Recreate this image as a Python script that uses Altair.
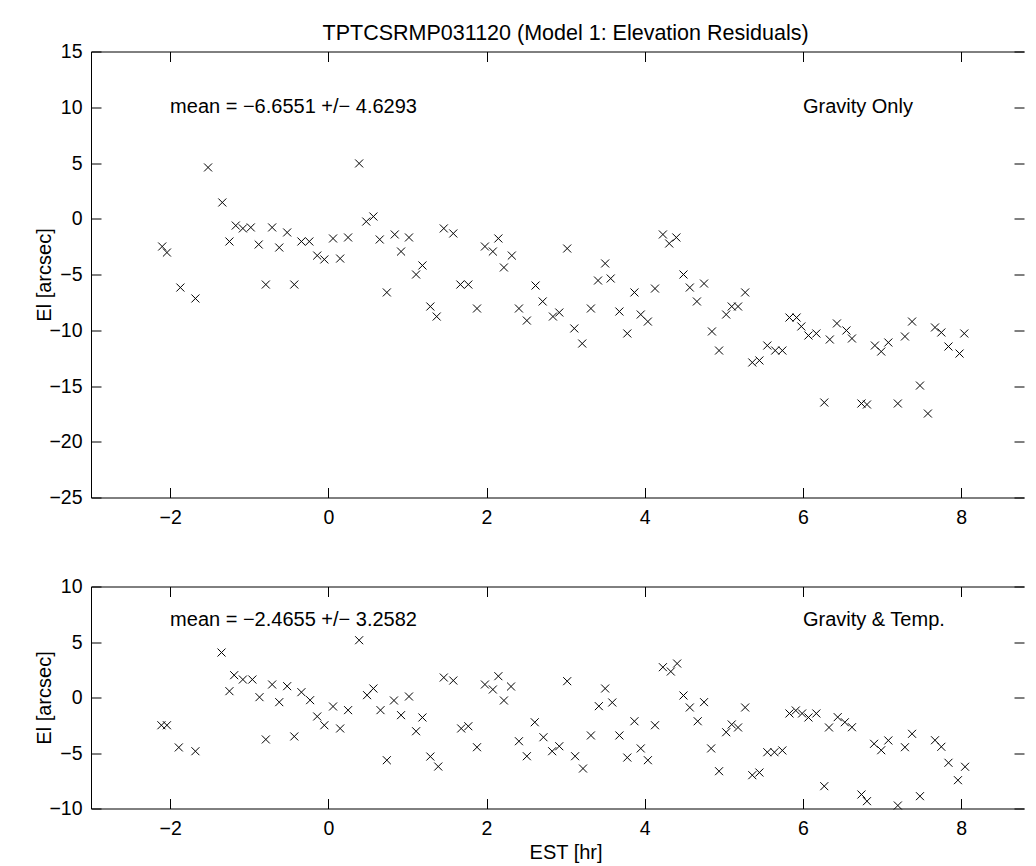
import altair as alt
import pandas as pd

# ---------------- data ----------------
top_x = [-2.10, -2.04, -1.87, -1.68, -1.52, -1.34, -1.25, -1.17, -1.08, -0.98,
         -0.88, -0.79, -0.71, -0.62, -0.52, -0.43, -0.34, -0.24, -0.14, -0.05,
         0.06, 0.15, 0.25, 0.39, 0.48, 0.57, 0.65, 0.74, 0.84, 0.92,
         1.02, 1.11, 1.19, 1.29, 1.37, 1.46, 1.58, 1.67, 1.77, 1.88,
         1.98, 2.08, 2.15, 2.22, 2.32, 2.41, 2.51, 2.62, 2.71, 2.84,
         2.92, 3.02, 3.11, 3.21, 3.32, 3.41, 3.50, 3.57, 3.68, 3.78,
         3.87, 3.95, 4.04, 4.13, 4.23, 4.31, 4.40, 4.49, 4.57, 4.66,
         4.75, 4.85, 4.94, 5.03, 5.10, 5.18, 5.27, 5.36, 5.45, 5.55,
         5.65, 5.74, 5.83, 5.92, 5.98, 6.07, 6.17, 6.27, 6.34, 6.43,
         6.55, 6.62, 6.74, 6.81, 6.91, 6.99, 7.08, 7.20, 7.29, 7.38,
         7.48, 7.58, 7.67, 7.75, 7.84, 7.98, 8.04]
top_y = [-2.49, -3.03, -6.17, -7.15, 4.60, 1.46, -2.04, -0.61, -0.87, -0.78,
         -2.31, -5.90, -0.78, -2.58, -1.23, -5.90, -2.04, -2.04, -3.30, -3.65,
         -1.77, -3.57, -1.68, 4.96, -0.25, 0.20, -1.86, -6.61, -1.41, -2.94,
         -1.68, -5.00, -4.19, -7.87, -8.77, -0.87, -1.32, -5.90, -5.90, -8.05,
         -2.49, -2.94, -1.77, -4.37, -3.30, -8.05, -9.13, -5.99, -7.42, -8.77,
         -8.41, -2.67, -9.84, -11.19, -8.05, -5.54, -4.01, -5.36, -8.32, -10.29,
         -6.61, -8.59, -9.22, -6.26, -1.41, -2.22, -1.68, -5.00, -6.17, -7.42,
         -5.81, -10.11, -11.82, -8.59, -7.87, -7.87, -6.61, -12.89, -12.71, -11.37,
         -11.82, -11.82, -8.86, -8.86, -9.66, -10.47, -10.29, -16.48, -10.83, -9.39,
         -10.02, -10.74, -16.57, -16.66, -11.37, -11.91, -11.10, -16.57, -10.56, -9.22,
         -14.96, -17.47, -9.75, -10.20, -11.46, -12.09, -10.29]

bot_x = [-2.11, -2.04, -1.89, -1.68, -1.35, -1.25, -1.19, -1.08, -0.96, -0.87,
         -0.79, -0.71, -0.62, -0.52, -0.43, -0.34, -0.23, -0.14, -0.05, 0.06,
         0.15, 0.25, 0.39, 0.49, 0.57, 0.66, 0.74, 0.83, 0.92, 1.02,
         1.11, 1.19, 1.29, 1.39, 1.46, 1.58, 1.68, 1.77, 1.88, 1.98,
         2.08, 2.15, 2.22, 2.31, 2.41, 2.51, 2.61, 2.72, 2.83, 2.92,
         3.02, 3.12, 3.22, 3.32, 3.42, 3.50, 3.59, 3.68, 3.78, 3.87,
         3.95, 4.04, 4.13, 4.23, 4.33, 4.41, 4.49, 4.57, 4.67, 4.75,
         4.84, 4.94, 5.03, 5.10, 5.18, 5.27, 5.36, 5.45, 5.55, 5.64,
         5.74, 5.83, 5.91, 5.99, 6.07, 6.17, 6.27, 6.33, 6.44, 6.53,
         6.62, 6.74, 6.81, 6.90, 6.99, 7.08, 7.20, 7.29, 7.38, 7.48,
         7.67, 7.75, 7.84, 7.96, 8.05]
bot_y = [-2.50, -2.50, -4.50, -4.84, 4.05, 0.57, 2.01, 1.62, 1.62, 0.03,
         -3.78, 1.17, -0.42, 1.02, -3.51, 0.48, -0.24, -1.71, -2.50, -0.81,
         -2.79, -1.14, 5.16, 0.21, 0.81, -1.14, -5.65, -0.27, -1.59, 0.09,
         -3.04, -1.80, -5.32, -6.22, 1.80, 1.53, -2.79, -2.59, -4.48, 1.17,
         0.72, 1.92, -0.27, 0.99, -3.94, -5.29, -2.23, -3.58, -4.84, -4.39,
         1.47, -5.29, -6.40, -3.42, -0.78, 0.81, -0.45, -3.42, -5.41, -2.14,
         -4.59, -5.65, -2.50, 2.73, 2.34, 3.06, 0.18, -0.90, -2.14, -0.42,
         -4.59, -6.64, -3.13, -2.43, -2.70, -0.90, -7.00, -6.76, -4.93, -4.93,
         -4.77, -1.44, -1.17, -1.44, -1.80, -1.44, -7.99, -2.70, -1.77, -2.23,
         -2.68, -8.74, -9.34, -4.17, -4.75, -3.87, -9.73, -4.48, -3.27, -8.89,
         -3.85, -4.44, -5.88, -7.45, -6.24]

x_ticks = [-2, 0, 2, 4, 6, 8]
top_y_ticks = [-25, -20, -15, -10, -5, 0, 5, 10, 15]
bot_y_ticks = [-10, -5, 0, 5, 10]

top_note_text = ["mean = \u22126.6551 +/\u2212 4.6293", "Gravity Only"]
top_note_x = [-2, 6]
top_note_y = [10, 10]
bot_note_text = ["mean = \u22122.4655 +/\u2212 3.2582", "Gravity & Temp."]
bot_note_x = [-2, 6]
bot_note_y = [7, 7]

chart_title = "TPTCSRMP031120 (Model 1: Elevation Residuals)"
y_title = "El [arcsec]"
x_title = "EST [hr]"

# ---------------- chart ----------------
FONT = "Liberation Sans"
PX_PER_UNIT = 79.1
W = 933
FULL_W = 12 * PX_PER_UNIT          # the original box runs past the right edge
XPATH = "M-1,-1L1,1M1,-1L-1,1"
x_domain = [-3, round(-3 + W / PX_PER_UNIT, 3)]


def panel(xs, ys, ydom, yticks, h, nx, ny, nt, xtitle):
    df = pd.DataFrame({"x": xs, "y": ys})
    notes = pd.DataFrame({"x": nx, "y": ny, "t": nt})
    xsc = alt.Scale(domain=x_domain, nice=False, zero=False)
    ysc = alt.Scale(domain=ydom, nice=False, zero=False)

    xlab = dict(values=x_ticks, ticks=False, domain=True, grid=False, labelPadding=11)
    if xtitle:
        xlab.update(title=xtitle, titlePadding=4, titleX=FULL_W / 2)
    else:
        xlab.update(title=None)

    pts = alt.Chart(df).mark_point(
        shape=XPATH, filled=False, color="black", size=64, strokeWidth=1, opacity=1
    ).encode(
        x=alt.X("x:Q", scale=xsc, axis=alt.Axis(**xlab)),
        y=alt.Y("y:Q", scale=ysc, axis=alt.Axis(
            values=yticks, ticks=False, domain=True, grid=False,
            labelPadding=9, title=y_title, titleX=-47, titleY=h / 2,
            titleAngle=270, titleBaseline="middle", titleAlign="center")),
    )

    # inward ticks on bottom & left edges
    ticks_a = alt.Chart(df).mark_point(opacity=0).encode(
        x=alt.X("x:Q", scale=xsc, axis=alt.Axis(
            orient="top", offset=-h, values=x_ticks, labels=False, domain=False,
            grid=False, tickSize=10, title=None)),
        y=alt.Y("y:Q", scale=ysc, axis=alt.Axis(
            orient="right", offset=-W, values=yticks, labels=False, domain=False,
            grid=False, tickSize=10, title=None)),
    )
    # inward ticks on top & right edges (top edge line drawn as this axis' domain)
    ticks_b = alt.Chart(df).mark_point(opacity=0).encode(
        x=alt.X("x:Q", scale=xsc, axis=alt.Axis(
            orient="bottom", offset=-h, values=x_ticks, labels=False, domain=True,
            grid=False, tickSize=10, title=None)),
        y=alt.Y("y:Q", scale=ysc, axis=alt.Axis(
            orient="left", offset=-W, values=yticks, labels=False, domain=False,
            grid=False, tickSize=10, title=None)),
    )

    txt = alt.Chart(notes).mark_text(
        align="left", baseline="middle", font=FONT, fontSize=20, color="black"
    ).encode(
        x=alt.X("x:Q", scale=xsc, axis=None),
        y=alt.Y("y:Q", scale=ysc, axis=None),
        text="t:N",
    )

    return alt.layer(pts, ticks_a, ticks_b, txt).resolve_axis(
        x="independent", y="independent"
    ).properties(width=W, height=h)


top = panel(top_x, top_y, [-25, 15], top_y_ticks, 446,
            top_note_x, top_note_y, top_note_text, None).properties(
    title=alt.TitleParams(chart_title, font=FONT, fontSize=21.5, fontWeight="normal",
                          color="black", anchor="middle", frame="group",
                          baseline="bottom", offset=-24.5,
                          dx=(FULL_W - W) / 2)
)
bot = panel(bot_x, bot_y, [-10, 10], bot_y_ticks, 222,
            bot_note_x, bot_note_y, bot_note_text, x_title)

chart = alt.vconcat(top, bot, spacing=49).properties(
    background="white",
    padding={"left": 26, "top": 14.5, "right": 0, "bottom": 0},
).configure_view(
    strokeWidth=0
).configure_axis(
    labelFont=FONT, labelFontSize=19.5, labelColor="black",
    titleFont=FONT, titleFontSize=20, titleFontWeight="normal", titleColor="black",
    tickColor="black", tickWidth=1, domainColor="black", domainWidth=1,
)

chart.save("out.html", embed_options={"renderer": "svg", "actions": False})
